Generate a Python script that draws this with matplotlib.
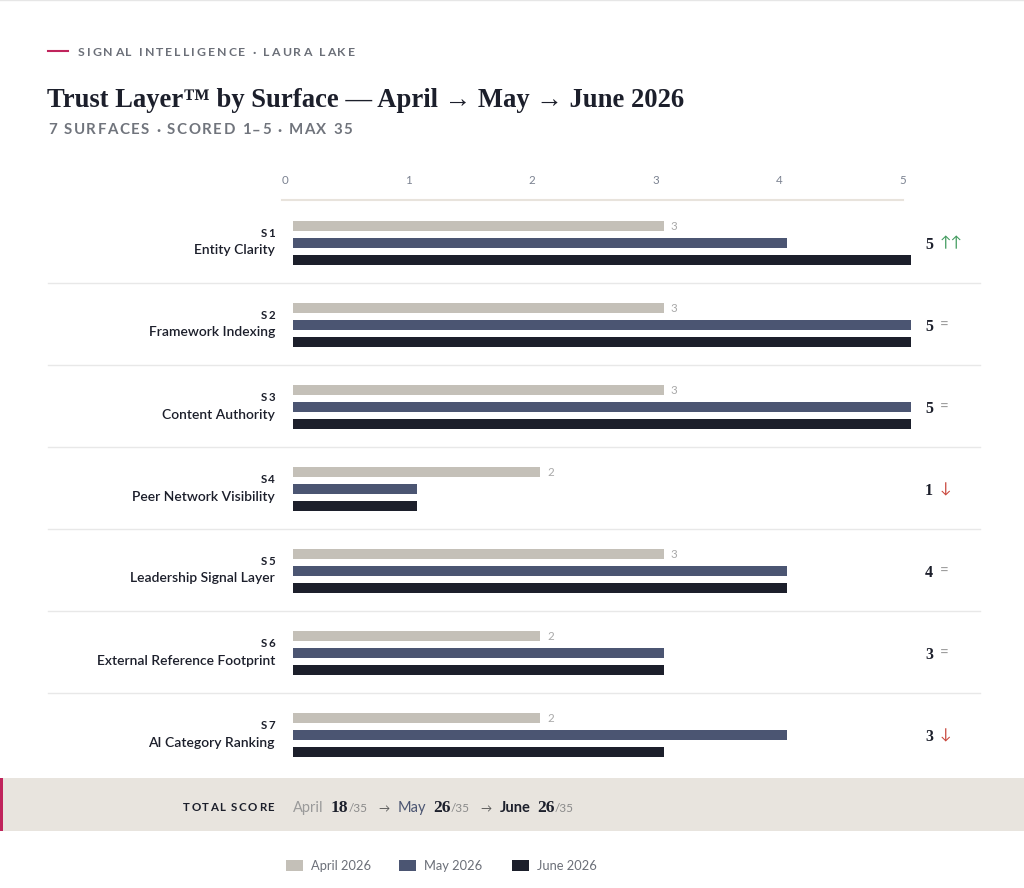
import matplotlib
matplotlib.use("Agg")
import matplotlib.pyplot as plt
from matplotlib.patches import Rectangle
from matplotlib.lines import Line2D

# data
codes = ["S1", "S2", "S3", "S4", "S5", "S6", "S7"]
surfaces = ["Entity Clarity", "Framework Indexing", "Content Authority",
            "Peer Network Visibility", "Leadership Signal Layer",
            "External Reference Footprint", "AI Category Ranking"]
april = [3, 3, 3, 2, 3, 2, 2]
may = [4, 5, 5, 1, 4, 3, 4]
june = [5, 5, 5, 1, 4, 3, 3]
trend = ["↑↑", "=", "=", "↓", "=", "=", "↓"]
series_names = ["April 2026", "May 2026", "June 2026"]
max_score = 35
x_ticks = [0, 1, 2, 3, 4, 5]

C_APR, C_MAY, C_JUN = "#c4c0b8", "#4b5572", "#1c1f2b"
TREND_C = {"↑↑": "#3f9a5c", "=": "#9a9a9a", "↓": "#c8443a"}
SANS = ["Lato", "DejaVu Sans"]
SERIF = ["Liberation Serif", "DejaVu Serif"]

W, H = 1024, 888
fig = plt.figure(figsize=(W / 100, H / 100), dpi=100)
fig.patch.set_facecolor("white")
R = fig.canvas.get_renderer()


def fx(x):
    return x / W


def fy(y):
    return 1 - y / H


def spaced(x, y, s, spacing, draw=True, **kw):
    # letter-spaced text, drawn char by char; returns the right edge
    for ch in s:
        if ch == " ":
            x += kw.get("size", 9) * 0.36 + spacing
            continue
        t = fig.text(fx(x), fy(y), ch, va="baseline", ha="left", **kw)
        x = t.get_window_extent(R).x1 + spacing
        if not draw:
            t.remove()
    return x - spacing


def chain(x, y, parts):
    for s, gap, kw in parts:
        x += gap
        t = fig.text(fx(x), fy(y), s, va="baseline", ha="left", **kw)
        x = t.get_window_extent(R).x1
    return x


# top border
fig.add_artist(Line2D([0, 1], [fy(0.5), fy(0.5)], color="#e6e6e6", lw=1))

# header
fig.add_artist(Line2D([fx(48), fx(68)], [fy(51), fy(51)], color="#c0245c", lw=1.5))
spaced(78, 55.5, "SIGNAL INTELLIGENCE · LAURA LAKE", 2.0,
       size=8.8, weight="bold", color="#6b6f78", family=SANS)
fig.text(fx(47), fy(107), "Trust Layer™ by Surface — April → May → June 2026",
         size=19.2, weight="bold", color="#1c1f2b", family=SERIF, va="baseline")
spaced(48, 134.5, "7 SURFACES · SCORED 1–5 · MAX 35", 1.5,
       size=10.8, weight="bold", color="#70747c", family=SANS)

# chart axes
x0, x5 = 293, 911
top, row_h = 201, 82
n = len(codes)
ax = fig.add_axes([fx(x0), fy(top + row_h * n), (x5 - x0) / W, row_h * n / H])
ax.set_xlim(0, 5)
ax.set_ylim(n, 0)
ax.axis("off")
ax.set_facecolor("none")

offs = [25 / row_h, 42 / row_h, 59 / row_h]
bh = 10 / row_h
code_kw = dict(size=8.3, weight="bold", color="#1c1f2b", family=SANS)
for i in range(n):
    ax.barh(i + offs[0], april[i], height=bh, color=C_APR, left=0)
    ax.barh(i + offs[1], may[i], height=bh, color=C_MAY, left=0)
    ax.barh(i + offs[2], june[i], height=bh, color=C_JUN, left=0)
    ax.annotate(str(april[i]), (april[i], i + offs[0]), xytext=(5, 0),
                textcoords="offset points", va="center", ha="left",
                size=8.3, color="#a8a8a8", family=SANS)
    ax.annotate(str(june[i]), (1, i + offs[1]), xycoords=("axes fraction", "data"),
                xytext=(10, -1.5), textcoords="offset points", va="center", ha="left",
                size=11.5, weight="bold", color="#1c1f2b", family=SERIF)
    ax.annotate(trend[i], (1, i + offs[1]), xycoords=("axes fraction", "data"),
                xytext=(20.5, -0.5), textcoords="offset points", va="center", ha="left",
                size=11, color=TREND_C[trend[i]], family=SANS)
    # row labels
    yc = top + row_h * i
    w = spaced(0, -100, codes[i], 1.5, draw=False, **code_kw)
    spaced(275 - w, yc + 36, codes[i], 1.5, **code_kw)
    fig.text(fx(275), fy(yc + 53.5), surfaces[i], ha="right", va="baseline",
             size=10, weight="semibold", color="#1c1f2b", family=SANS)
    if i > 0:
        fig.add_artist(Line2D([fx(48), fx(980)], [fy(yc), fy(yc)],
                              color="#e8e8e8", lw=1))

# x tick labels above the chart
fig.add_artist(Line2D([fx(282), fx(903)], [fy(200), fy(200)], color="#e8e3dc", lw=1.5))
for v in x_ticks:
    ax.annotate(str(v), (v, 0), xytext=(-5.8, 15), textcoords="offset points",
                ha="center", va="center", size=8.3, color="#7a8190", family=SANS,
                annotation_clip=False)

# total score band
fig.add_artist(Rectangle((0, fy(831)), 1, (831 - 778) / H, transform=fig.transFigure,
                         facecolor="#e8e4de", edgecolor="none"))
fig.add_artist(Rectangle((0, fy(831)), 3 / W, (831 - 778) / H, transform=fig.transFigure,
                         facecolor="#c0245c", edgecolor="none"))
tkw = dict(size=8.3, weight="bold", color="#1c1f2b", family=SANS)
w = spaced(0, -100, "TOTAL SCORE", 1.4, draw=False, **tkw)
spaced(274 - w, 811, "TOTAL SCORE", 1.4, **tkw)
tot = [sum(april), sum(may), sum(june)]
num = dict(size=12.5, weight="bold", color="#1c1f2b", family=SERIF)
small = dict(size=8.5, color="#8a8a8a", family=SANS)
arr = dict(size=8, color="#555555", family=SANS)
chain(293, 812, [
    ("April", 0, dict(size=10.5, color="#9a9a9a", family=SANS)),
    (str(tot[0]), 7, num),
    ("/" + str(max_score), 0, small),
    ("→", 11, arr),
    ("May", 8, dict(size=10.5, color="#4b5572", family=SANS)),
    (str(tot[1]), 7, num),
    ("/" + str(max_score), 0, small),
    ("→", 11, arr),
    ("June", 8, dict(size=10.5, weight="bold", color="#1c1f2b", family=SANS)),
    (str(tot[2]), 7, num),
    ("/" + str(max_score), 0, small),
])

# legend
for lx, name, col in zip([286, 399, 512], series_names, [C_APR, C_MAY, C_JUN]):
    fig.add_artist(Rectangle((fx(lx), fy(871)), 17 / W, 11 / H, transform=fig.transFigure,
                             facecolor=col, edgecolor="none"))
    fig.text(fx(lx + 25), fy(865.5), name, va="center", ha="left",
             size=9.3, color="#6b6f78", family=SANS)

fig.savefig("out.png", dpi=100, facecolor="white")
